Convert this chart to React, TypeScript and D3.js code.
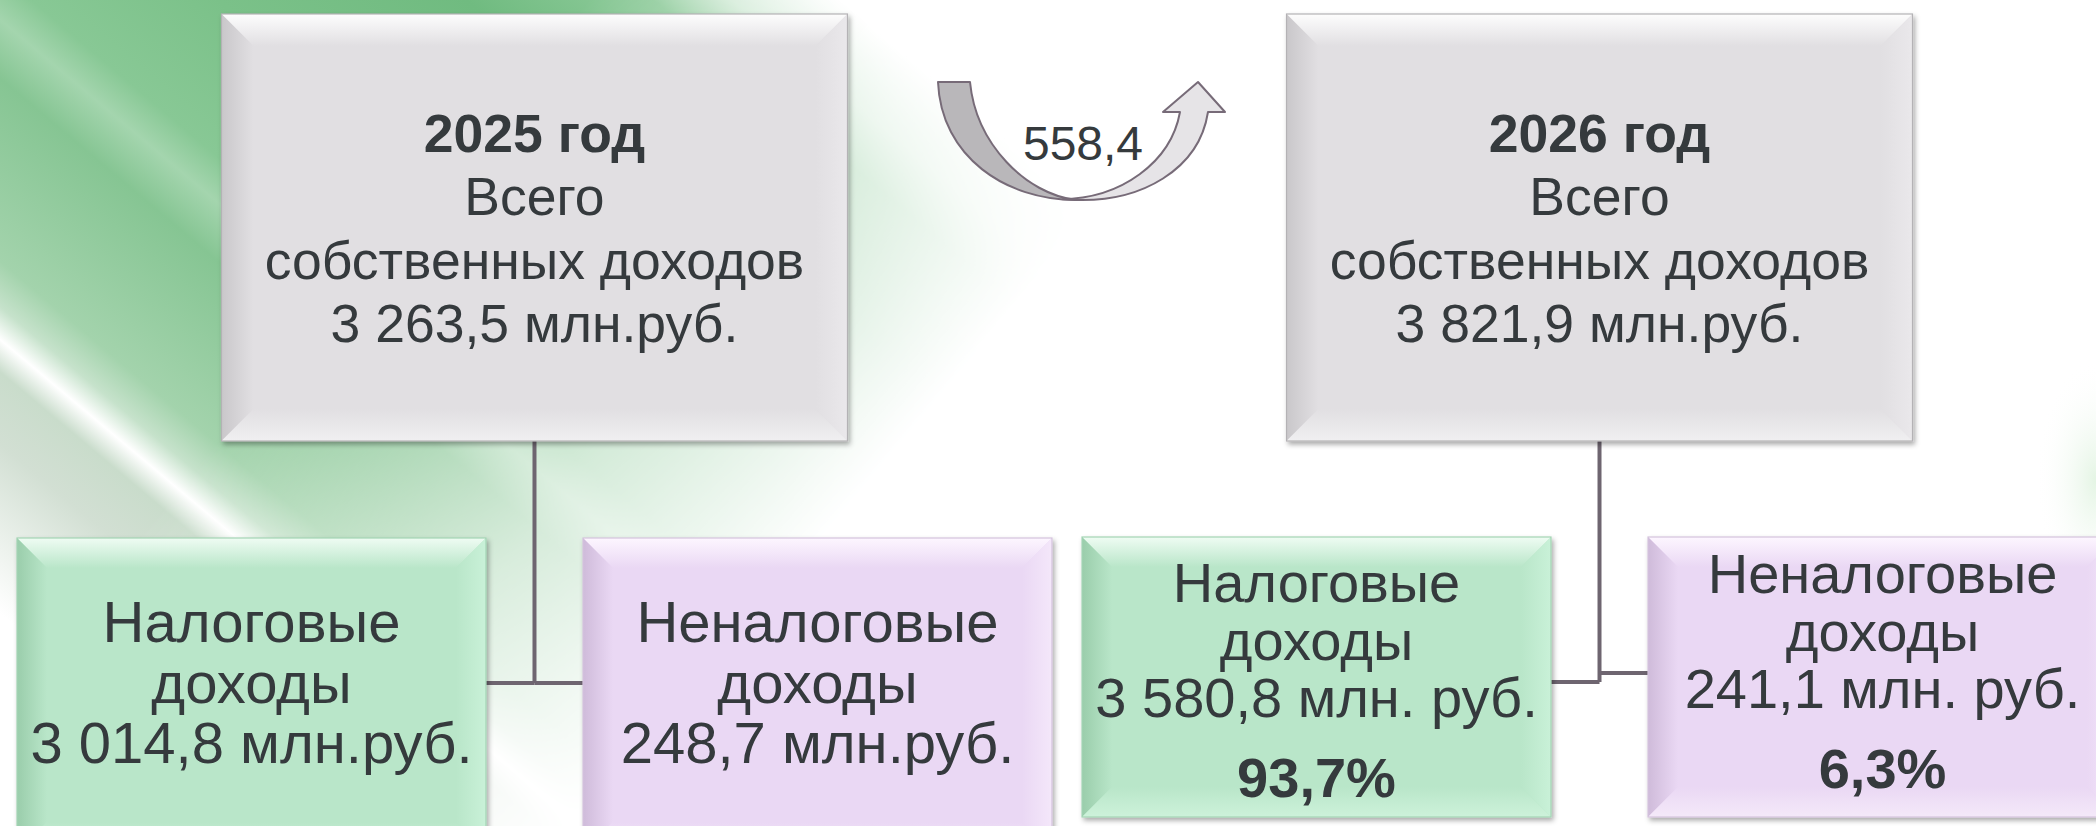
import * as d3 from "d3";

// ---- data ----
const years = ["2025", "2026"];
const totals = [3263.5, 3821.9];
const taxIncome = [3014.8, 3580.8];
const nonTaxIncome = [248.7, 241.1];
const taxShare: (number | null)[] = [null, 93.7];
const nonTaxShare: (number | null)[] = [null, 6.3];
const growth = [558.4];
const totalUnit = "млн.руб.";
const childUnits = ["млн.руб.", "млн. руб."];
const totalLabels = ["Всего", "собственных доходов"];
const childLabels = [["Налоговые", "доходы"], ["Неналоговые", "доходы"]];

const W = 2096;
const H = 826;
const FONT = "'Liberation Sans', Arial, sans-serif";
const INK = "#353a3d";
const LINE = "#6e6570";

const palettes = {
  grey: { id: "pg", base: "#e1dfe2", top: "#fdfdfd", left: "#c9c7ca", right: "#eae8eb", bottom: "#f0eff1", edge: "#b4b2b5" },
  green: { id: "pn", base: "#b9e6c9", top: "#effcf3", left: "#9acdab", right: "#c9f1d8", bottom: "#cdf2da", edge: "#a3d4b4" },
  purple: { id: "pp", base: "#ead8f4", top: "#fdf6ff", left: "#cfbbda", right: "#f4e7fa", bottom: "#f4e9f9", edge: "#d4c3dd" },
};
type Pal = typeof palettes.grey;

const ru = d3.formatLocale({ decimal: ",", thousands: " ", grouping: [3], currency: ["", ""] });
const fmtMoney = ru.format(",.1f");
const fmtPct = (v: number) => ru.format(".1f")(v) + "%";

function BevelBox({ x, y, w, h, b, pal }: { x: number; y: number; w: number; h: number; b: number; pal: Pal }) {
  return (
    <g filter="url(#shadow)">
      <rect x={x} y={y} width={w} height={h} fill={pal.base} />
      <polygon points={`${x},${y} ${x + w},${y} ${x + w - b},${y + b} ${x + b},${y + b}`} fill={`url(#${pal.id}-t)`} />
      <polygon points={`${x},${y} ${x + b},${y + b} ${x + b},${y + h - b} ${x},${y + h}`} fill={`url(#${pal.id}-l)`} />
      <polygon points={`${x + w},${y} ${x + w},${y + h} ${x + w - b},${y + h - b} ${x + w - b},${y + b}`} fill={`url(#${pal.id}-r)`} />
      <polygon points={`${x},${y + h} ${x + b},${y + h - b} ${x + w - b},${y + h - b} ${x + w},${y + h}`} fill={`url(#${pal.id}-b)`} />
      <rect x={x} y={y} width={w} height={h} fill="none" stroke={pal.edge} strokeWidth={1.2} />
    </g>
  );
}

function PalGradients({ pal }: { pal: Pal }) {
  return (
    <>
      <linearGradient id={`${pal.id}-t`} x1="0" y1="0" x2="0" y2="1">
        <stop offset="0" stopColor={pal.top} />
        <stop offset="1" stopColor={pal.base} />
      </linearGradient>
      <linearGradient id={`${pal.id}-l`} x1="0" y1="0" x2="1" y2="0">
        <stop offset="0" stopColor={pal.left} />
        <stop offset="1" stopColor={pal.base} />
      </linearGradient>
      <linearGradient id={`${pal.id}-r`} x1="1" y1="0" x2="0" y2="0">
        <stop offset="0" stopColor={pal.right} />
        <stop offset="1" stopColor={pal.base} />
      </linearGradient>
      <linearGradient id={`${pal.id}-b`} x1="0" y1="1" x2="0" y2="0">
        <stop offset="0" stopColor={pal.bottom} />
        <stop offset="1" stopColor={pal.base} />
      </linearGradient>
    </>
  );
}

export default function App() {
  const yearScale = d3.scaleBand<string>().domain(years).range([17, 2117]).paddingInner(0.0282);
  const kinds = ["tax", "nontax"];

  // vertical layout
  const parentTop = 14;
  const parentBottom = 441;
  const parentW = 626;
  const parentFont = 53.5;
  const childTop = [538, 537];
  const childBottom = [852, 817];
  const childFont = [58, 56];
  const childFirst = [104, 65];
  const childStep = [60.5, 57.5];
  const childShift = [[0, 0], [0, -9]];
  const joinY = [[683, 683], [682, 673]];

  const ang = 40;
  const rad = (ang * Math.PI) / 180;
  const fadeLen = 1250;

  const arrowCx = (yearScale("2025")! + yearScale.bandwidth() / 2 + parentW / 2 + yearScale("2026")! + yearScale.bandwidth() / 2 - parentW / 2) / 2 + 14;
  const arrowTop = 82;

  return (
    <svg width={W} height={H} style={{ position: "absolute", left: 0, top: 0, background: "#fff" }} fontFamily={FONT}>
      <defs>
        <filter id="shadow" x="-5%" y="-5%" width="112%" height="115%">
          <feDropShadow dx="2" dy="3" stdDeviation="2.5" floodColor="#000" floodOpacity="0.33" />
        </filter>
        <PalGradients pal={palettes.grey} />
        <PalGradients pal={palettes.green} />
        <PalGradients pal={palettes.purple} />
        <linearGradient id="fadeAlong" gradientUnits="userSpaceOnUse" x1="0" y1="0" x2={fadeLen * Math.cos(rad)} y2={fadeLen * Math.sin(rad)}>
          <stop offset="0" stopColor="#fff" stopOpacity="1" />
          <stop offset="0.36" stopColor="#fff" stopOpacity="1" />
          <stop offset="0.6" stopColor="#fff" stopOpacity="0.35" />
          <stop offset="0.78" stopColor="#fff" stopOpacity="0" />
        </linearGradient>
        <mask id="bgMask">
          <rect width={W} height={H} fill="url(#fadeAlong)" />
        </mask>
        <linearGradient id="bands" gradientUnits="userSpaceOnUse" x1="0" y1="-540" x2="0" y2="470">
          <stop offset={(0 / 1010).toString()} stopColor="#ffffff" />
          <stop offset={(70 / 1010).toString()} stopColor="#cfe9d4" />
          <stop offset={(120 / 1010).toString()} stopColor="#8fcb9b" />
          <stop offset={(240 / 1010).toString()} stopColor="#70bb80" />
          <stop offset={(400 / 1010).toString()} stopColor="#7bc189" />
          <stop offset={(520 / 1010).toString()} stopColor="#88c895" />
          <stop offset={(555 / 1010).toString()} stopColor="#a4d5ae" />
          <stop offset={(600 / 1010).toString()} stopColor="#86c593" />
          <stop offset={(740 / 1010).toString()} stopColor="#a3d3ac" />
          <stop offset={(775 / 1010).toString()} stopColor="#c6e2cb" />
          <stop offset={(800 / 1010).toString()} stopColor="#ffffff" />
          <stop offset={(825 / 1010).toString()} stopColor="#c9dccb" />
          <stop offset={(880 / 1010).toString()} stopColor="#d2dfd3" />
          <stop offset={(960 / 1010).toString()} stopColor="#eef3ee" />
          <stop offset="1" stopColor="#ffffff" />
        </linearGradient>
        <radialGradient id="glow" cx="0.5" cy="0.5" r="0.5">
          <stop offset="0" stopColor="#d8f0d8" stopOpacity="0.7" />
          <stop offset="1" stopColor="#ffffff" stopOpacity="0" />
        </radialGradient>
      </defs>

      {/* decorative diagonal background */}
      <g mask="url(#bgMask)">
        <g transform={`rotate(${ang})`}>
          <rect x={-900} y={-540} width={3200} height={1010} fill="url(#bands)" />
        </g>
      </g>
      <ellipse cx={W} cy={480} rx={60} ry={120} fill="url(#glow)" />

      {/* connectors */}
      {years.map((yr, i) => {
        const x0 = yearScale(yr)!;
        const cx = x0 + yearScale.bandwidth() / 2;
        const sub = d3.scaleBand<string>().domain(kinds).range([x0, x0 + yearScale.bandwidth()]).paddingInner(0.1714);
        const taxRight = sub("tax")! + sub.bandwidth();
        const nonLeft = sub("nontax")!;
        const [jyL, jyR] = joinY[i];
        return (
          <g key={"c" + yr} stroke={LINE} strokeWidth={4} fill="none">
            <path d={`M${cx},${parentBottom} V${Math.max(jyL, jyR)}`} />
            <path d={`M${taxRight},${jyL} H${cx}`} />
            <path d={`M${cx},${jyR} H${nonLeft}`} />
          </g>
        );
      })}

      {/* parent boxes */}
      {years.map((yr, i) => {
        const cx = yearScale(yr)! + yearScale.bandwidth() / 2;
        const lines = [`${yr} год`, totalLabels[0], totalLabels[1], `${fmtMoney(totals[i])} ${totalUnit}`];
        return (
          <g key={"p" + yr}>
            <BevelBox x={cx - parentW / 2} y={parentTop} w={parentW} h={parentBottom - parentTop} b={32} pal={palettes.grey} />
            {lines.map((t, j) => (
              <text key={j} x={cx} y={parentTop + 138 + j * 63.3} textAnchor="middle" fontSize={parentFont} fontWeight={j === 0 ? 700 : 400} fill={INK}>
                {t}
              </text>
            ))}
          </g>
        );
      })}

      {/* child boxes */}
      {years.map((yr, i) => {
        const x0 = yearScale(yr)!;
        const sub = d3.scaleBand<string>().domain(kinds).range([x0, x0 + yearScale.bandwidth()]).paddingInner(0.1714);
        const values = [taxIncome[i], nonTaxIncome[i]];
        const shares = [taxShare[i], nonTaxShare[i]];
        return kinds.map((k, j) => {
          const bx = sub(k)!;
          const cx = bx + sub.bandwidth() / 2;
          const top = childTop[i];
          const base = top + childFirst[i] + childShift[i][j];
          const lines = [childLabels[j][0], childLabels[j][1], `${fmtMoney(values[j])} ${childUnits[i]}`];
          const share = shares[j];
          return (
            <g key={yr + k}>
              <BevelBox x={bx} y={top} w={sub.bandwidth()} h={childBottom[i] - top} b={30} pal={j === 0 ? palettes.green : palettes.purple} />
              {lines.map((t, m) => (
                <text key={m} x={cx} y={base + m * childStep[i]} textAnchor="middle" fontSize={childFont[i]} fill={INK}>
                  {t}
                </text>
              ))}
              {share !== null && (
                <text x={cx} y={base + 2 * childStep[i] + 80} textAnchor="middle" fontSize={childFont[i]} fontWeight={700} fill={INK}>
                  {fmtPct(share)}
                </text>
              )}
            </g>
          );
        });
      })}

      {/* growth arrow */}
      <g transform={`translate(${arrowCx},${arrowTop})`} stroke="#776b78" strokeWidth={2} strokeLinejoin="round">
        <path
          d="M-20,117 C40,117 90,80 99,30 L82,30 L117,0 L144,30 L127,30 C118,88 60,120 -5,118 Z"
          fill="#e6e4e7"
        />
        <path d="M-143,0 L-111,0 C-105,62 -55,112 -5,118 C-75,118 -140,75 -143,0 Z" fill="#b9b7ba" />
        <text x={2} y={78} textAnchor="middle" fontSize={48} fill={INK} stroke="none">
          {ru.format(".1f")(growth[0])}
        </text>
      </g>
    </svg>
  );
}
